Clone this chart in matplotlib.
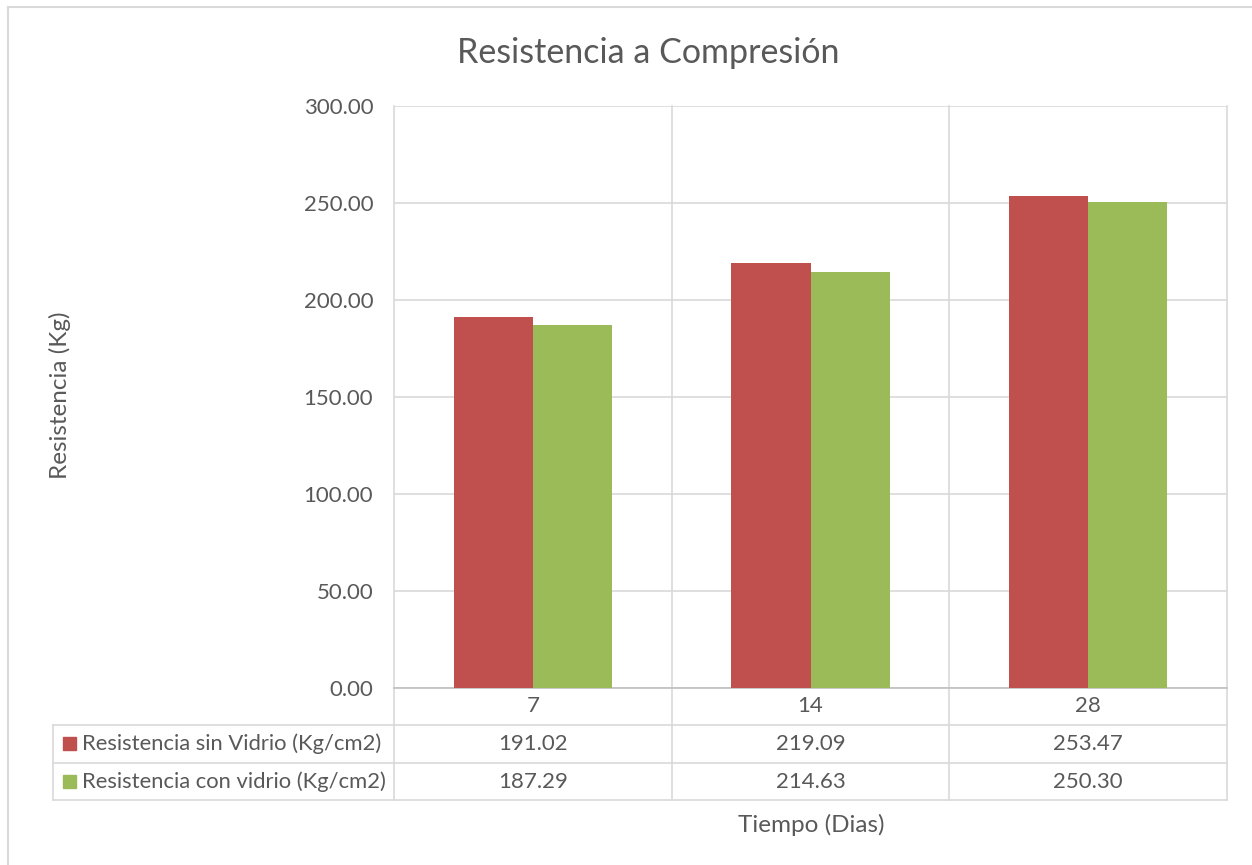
import matplotlib.pyplot as plt
import numpy as np

dias = ['7', '14', '28']
sin_vidrio = [191.02, 219.09, 253.47]
con_vidrio = [187.29, 214.63, 250.30]
series_names = ['Resistencia sin Vidrio (Kg/cm2)', 'Resistencia con vidrio (Kg/cm2)']
y_ticks = [0, 50, 100, 150, 200, 250, 300]

red = '#C0504D'
green = '#9BBB59'
grid = '#D9D9D9'
txt = '#595959'

W, H = 1252, 865
plt.rcParams['font.family'] = ['Lato', 'DejaVu Sans']


def fy(py):
    return 1 - py / H


def fx(px):
    return px / W


fig = plt.figure(figsize=(W / 100, H / 100), dpi=100)
ax = fig.add_axes([fx(394), fy(688), fx(1227) - fx(394), fy(106) - fy(688)])


def ay(py):
    return (fy(py) - fy(688)) / (fy(106) - fy(688))


x = np.arange(len(dias))
bw = 0.285
ax.bar(x - bw / 2, sin_vidrio, bw, color=red, zorder=3)
ax.bar(x + bw / 2, con_vidrio, bw, color=green, zorder=3)

ax.set_xlim(-0.5, len(dias) - 0.5)
ax.set_ylim(0, 300)
ax.set_yticks(y_ticks)
ax.set_yticklabels([f'{v:.2f}' for v in y_ticks], fontsize=16, color=txt)
ax.tick_params(axis='y', length=0, pad=15)
ax.set_xticks([])
ax.yaxis.grid(True, color=grid, linewidth=1.2, zorder=0)
for s in ['top', 'right', 'left']:
    ax.spines[s].set_visible(False)
ax.spines['bottom'].set_color('#BFBFBF')
ax.spines['bottom'].set_linewidth(1.2)

# data table below the axis
tr = ax.get_xaxis_transform()
for xe in [-0.5 + i for i in range(len(dias) + 1)]:
    ax.plot([xe, xe], [1, ay(800)], transform=tr, color=grid, linewidth=1.2,
            clip_on=False, zorder=1)

for py in [725, 763, 800]:
    fig.add_artist(plt.Line2D([fx(53), fx(1227)], [fy(py), fy(py)], color=grid, linewidth=1.2))
fig.add_artist(plt.Line2D([fx(53), fx(53)], [fy(725), fy(800)], color=grid, linewidth=1.2))

for i, d in enumerate(dias):
    ax.text(i, ay(706), d, transform=tr, ha='center', va='center', fontsize=16, color=txt)
    ax.text(i, ay(744), f'{sin_vidrio[i]:.2f}', transform=tr, ha='center', va='center',
            fontsize=16, color=txt)
    ax.text(i, ay(782), f'{con_vidrio[i]:.2f}', transform=tr, ha='center', va='center',
            fontsize=16, color=txt)

for name, c, py in zip(series_names, [red, green], [744, 782]):
    fig.add_artist(plt.Rectangle((fx(63), fy(py + 6)), fx(13), fy(0) - fy(13), color=c))
    fig.text(fx(82), fy(py), name, ha='left', va='center', fontsize=15.8, color=txt)

fig.text(fx(648), fy(53), 'Resistencia a Compresión', ha='center', va='center',
         fontsize=24.5, color=txt)
fig.text(fx(811), fy(825), 'Tiempo (Dias)', ha='center', va='center', fontsize=17.5, color=txt)
fig.text(fx(60), fy(395), 'Resistencia (Kg)', ha='center', va='center', rotation=90,
         fontsize=17.5, color=txt)

# chart border
fig.add_artist(plt.Line2D([fx(8), fx(8)], [fy(7), 0], color=grid, linewidth=1.5))
fig.add_artist(plt.Line2D([fx(8), 1], [fy(7), fy(7)], color=grid, linewidth=1.5))

fig.savefig('out.png', dpi=100, facecolor='white')
